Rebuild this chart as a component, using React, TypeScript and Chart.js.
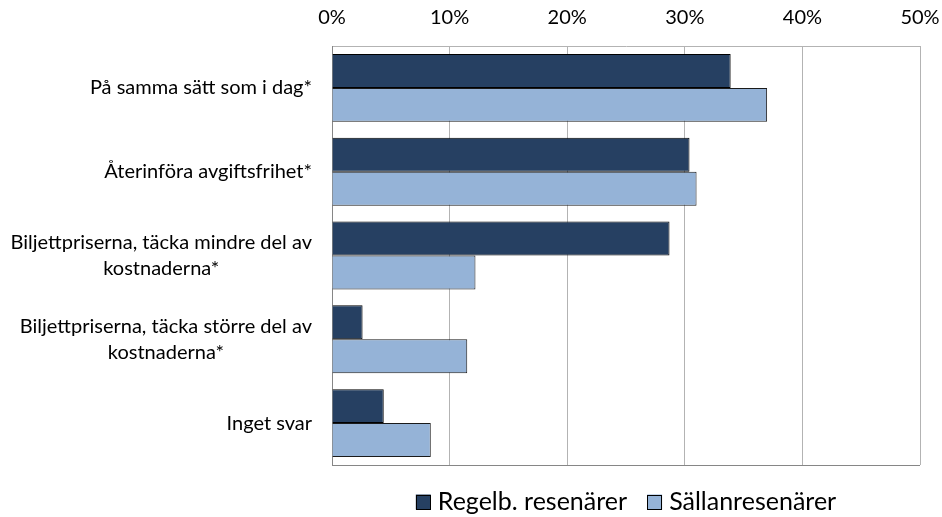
import React, { useEffect, useRef } from "react";
import { Chart, registerables } from "chart.js";
Chart.register(...registerables);

const categories: string[][] = [
  ["På samma sätt som i dag*"],
  ["Återinföra avgiftsfrihet*"],
  ["Biljettpriserna, täcka mindre del av", "kostnaderna*"],
  ["Biljettpriserna, täcka större del av", "kostnaderna*"],
  ["Inget svar"],
];
const seriesNames = ["Regelb. resenärer", "Sällanresenärer"];
const regelbValues = [33.9, 30.4, 28.7, 2.6, 4.4];
const sallanValues = [37.0, 31.0, 12.2, 11.5, 8.4];
const xMin = 0;
const xMax = 50;
const xStep = 10;

const FONT = "Lato";
const DARK = "#264062";
const LIGHT = "#95B3D7";

const yLabelPlugin = {
  id: "yLabels",
  afterDraw(chart: any) {
    const ctx = chart.ctx;
    const y = chart.scales.y;
    ctx.save();
    ctx.font = `20px ${FONT}`;
    ctx.fillStyle = "#000";
    ctx.textBaseline = "middle";
    ctx.textAlign = "center";
    const lh = 26.5;
    categories.forEach((lines, i) => {
      const cy = y.getPixelForTick(i);
      const maxW = Math.max(...lines.map((l) => ctx.measureText(l).width));
      const right = chart.chartArea.left - 20;
      const cx = right - maxW / 2;
      lines.forEach((l, j) => {
        ctx.fillText(l, cx, cy + (j - (lines.length - 1) / 2) * lh);
      });
    });
    ctx.restore();
  },
};

const framePlugin = {
  id: "frame",
  afterDatasetsDraw(chart: any) {
    const ctx = chart.ctx;
    const a = chart.chartArea;
    ctx.save();
    ctx.strokeStyle = "#868686";
    ctx.lineWidth = 1;
    ctx.beginPath();
    ctx.moveTo(a.left, Math.round(a.bottom) + 0.5);
    ctx.lineTo(a.right, Math.round(a.bottom) + 0.5);
    ctx.stroke();
    ctx.restore();
  },
};

const legendPlugin = {
  id: "customLegend",
  afterDraw(chart: any) {
    const ctx = chart.ctx;
    const a = chart.chartArea;
    ctx.save();
    ctx.font = `25px ${FONT}`;
    const box = 15;
    const gapBoxText = 7;
    const gapItems = 20;
    const cols = [DARK, LIGHT];
    const widths = seriesNames.map((n) => ctx.measureText(n).width);
    const total =
      widths.reduce((s, w) => s + w + box + gapBoxText, 0) + gapItems * (seriesNames.length - 1);
    let x = (a.left + a.right) / 2 - total / 2;
    const cy = 502;
    seriesNames.forEach((n, i) => {
      ctx.fillStyle = cols[i];
      ctx.fillRect(x, cy - box / 2, box, box);
      ctx.strokeStyle = "#000";
      ctx.lineWidth = 1;
      ctx.strokeRect(Math.round(x) + 0.5, Math.round(cy - box / 2) + 0.5, box - 1, box - 1);
      ctx.fillStyle = "#000";
      ctx.textBaseline = "middle";
      ctx.textAlign = "left";
      ctx.fillText(n, x + box + gapBoxText, cy);
      x += box + gapBoxText + widths[i] + gapItems;
    });
    ctx.restore();
  },
};

export default function App() {
  const ref = useRef<HTMLCanvasElement | null>(null);
  useEffect(() => {
    if (!ref.current) return;
    const chart = new Chart(ref.current, {
      type: "bar",
      data: {
        labels: categories.map((c) => c.join(" ")),
        datasets: [
          {
            label: seriesNames[0],
            data: regelbValues,
            backgroundColor: DARK,
            borderColor: "#000",
            borderWidth: 1,
            categoryPercentage: 0.81,
            barPercentage: 1,
          },
          {
            label: seriesNames[1],
            data: sallanValues,
            backgroundColor: LIGHT,
            borderColor: "#1a1a1a",
            borderWidth: 1,
            categoryPercentage: 0.81,
            barPercentage: 1,
          },
        ],
      },
      options: {
        indexAxis: "y",
        responsive: false,
        animation: false,
        maintainAspectRatio: false,
        layout: { padding: { left: 0, top: 0, right: 22, bottom: 52 } },
        plugins: { legend: { display: false }, tooltip: { enabled: false } },
        scales: {
          x: {
            position: "top",
            min: xMin,
            max: xMax,
            ticks: {
              stepSize: xStep,
              callback: (v: any) => `${v}%`,
              color: "#000",
              font: { family: FONT, size: 20 },
              padding: 16,
              maxRotation: 0,
            },
            grid: { color: "#b3b3b3", drawTicks: false, lineWidth: 1 },
            border: { display: true, color: "#b3b3b3" },
            afterFit: (s: any) => {
              s.height = 46;
              s.paddingLeft = 0;
              s.paddingRight = 0;
            },
          },
          y: {
            ticks: { display: false },
            grid: { display: false, drawTicks: false },
            border: { display: true, color: "#868686" },
            afterFit: (s: any) => {
              s.width = 332;
              s.paddingTop = 0;
              s.paddingBottom = 0;
            },
          },
        },
      },
      plugins: [yLabelPlugin, framePlugin, legendPlugin],
    });
    return () => chart.destroy();
  }, []);
  return (
    <div style={{ position: "fixed", left: 0, top: 0, width: 942, height: 517, background: "#fff" }}>
      <canvas ref={ref} width={942} height={517} style={{ display: "block" }} />
    </div>
  );
}
